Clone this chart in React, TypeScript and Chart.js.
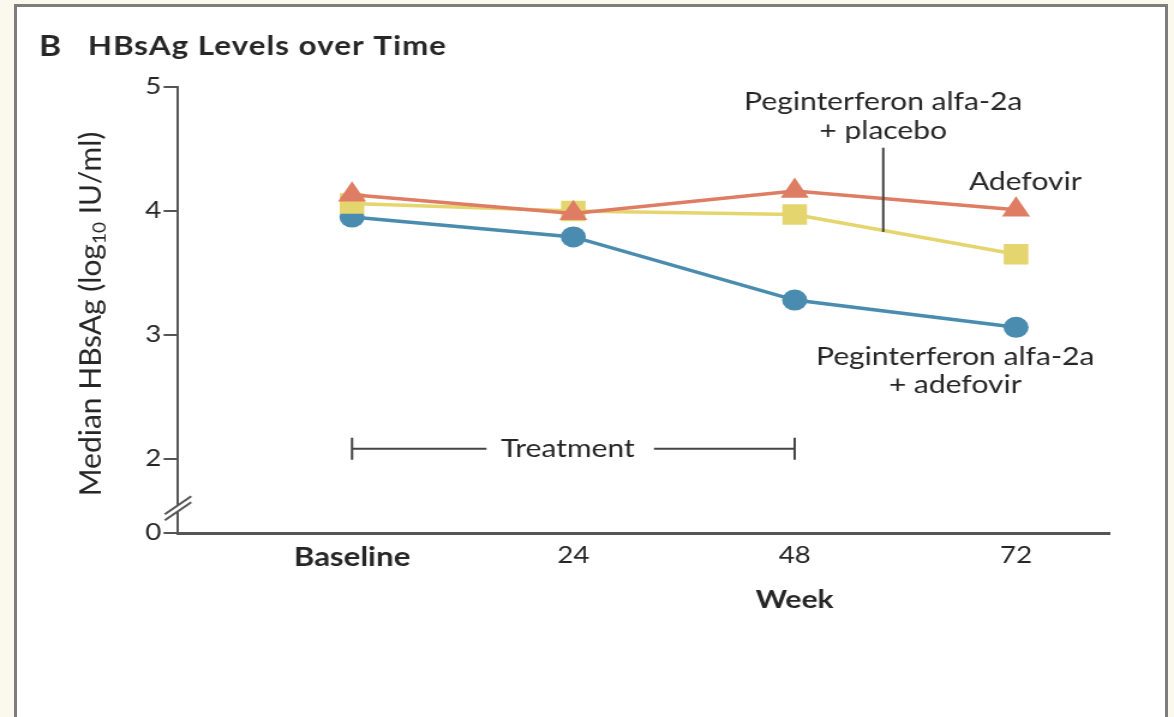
import React, { useEffect, useRef } from "react";
import { Chart, registerables } from "chart.js";

Chart.register(...registerables);

// ---- data ----
const weeks = [0, 24, 48, 72];
const weekLabels = ["Baseline", "24", "48", "72"];
const adefovir = [4.13, 3.98, 4.16, 4.01];
const pegPlacebo = [4.06, 4.0, 3.97, 3.65];
const pegAdefovir = [3.95, 3.79, 3.28, 3.06];
const yTickValues = [1.4, 2, 3, 4, 5];
const yTickLabels = ["0", "2", "3", "4", "5"];
const treatmentWeeks = [0, 48];

// The figure is drawn on a canvas that is stretched horizontally, like the source image.
const PAGE_W = 1174;
const PAGE_H = 717;
const CANVAS_W = 978;
const S = PAGE_W / CANVAS_W;

const FONT = "Lato, 'Open Sans', sans-serif";
const TEXT = "#262626";
const AXIS = "#555555";
const RED = "#de7c64";
const YELLOW = "#e5d56f";
const BLUE = "#4a8cb0";

const annotate = {
  id: "annotate",
  afterDraw(chart: any) {
    const ctx = chart.ctx as CanvasRenderingContext2D;
    const xs = chart.scales.x;
    const ys = chart.scales.y;
    const X = (v: number) => xs.getPixelForValue(v);
    const Y = (v: number) => ys.getPixelForValue(v);
    ctx.save();
    ctx.fillStyle = TEXT;
    ctx.textBaseline = "middle";

    // title
    ctx.textAlign = "left";
    ctx.font = `bold 28px ${FONT}`;
    ctx.fillText("B", 39 / S, 47);
    ctx.font = `bold 26px ${FONT}`;
    (ctx as any).letterSpacing = "0.9px";
    ctx.fillText("HBsAg Levels over Time", 88 / S, 47);
    (ctx as any).letterSpacing = "0px";

    // y axis title with subscript (rotated)
    ctx.save();
    ctx.translate(91 / S, 314);
    ctx.rotate(-Math.PI / 2);
    ctx.scale(1, 1 / S);
    const big = `30px ${FONT}`;
    const small = `19px ${FONT}`;
    const p1 = "Median HBsAg (log";
    const p2 = "10";
    const p3 = " IU/ml)";
    ctx.font = big;
    const w1 = ctx.measureText(p1).width;
    const w3 = ctx.measureText(p3).width;
    ctx.font = small;
    const w2 = ctx.measureText(p2).width;
    let sx = -(w1 + w2 + w3) / 2;
    ctx.textAlign = "left";
    ctx.font = big;
    ctx.fillText(p1, sx, 0);
    sx += w1;
    ctx.font = small;
    ctx.fillText(p2, sx, 8);
    sx += w2;
    ctx.font = big;
    ctx.fillText(p3, sx, 0);
    ctx.restore();

    // x axis title
    ctx.textAlign = "center";
    ctx.font = `bold 25px ${FONT}`;
    ctx.fillText("Week", X(48), 600);

    // series labels
    ctx.font = `25px ${FONT}`;
    ctx.fillText("Peginterferon alfa-2a", X(57.6), Y(4.88));
    ctx.fillText("+ placebo", X(57.6), Y(4.645));
    ctx.fillText("Adefovir", X(73), Y(4.234));
    ctx.fillText("Peginterferon alfa-2a", X(65.4), Y(2.823));
    ctx.fillText("+ adefovir", X(65.4), Y(2.597));

    // leader line
    ctx.strokeStyle = "#444";
    ctx.lineWidth = 2;
    ctx.beginPath();
    ctx.moveTo(X(57.6), Y(4.51));
    ctx.lineTo(X(57.6), Y(3.83));
    ctx.stroke();

    // treatment bracket
    const ty = Y(2.08);
    const tx0 = X(treatmentWeeks[0]);
    const tx1 = X(treatmentWeeks[1]);
    const tc = X(23.4);
    ctx.font = `25px ${FONT}`;
    const tw = ctx.measureText("Treatment").width;
    ctx.fillText("Treatment", tc, ty);
    ctx.strokeStyle = "#444";
    ctx.lineWidth = 2;
    ctx.beginPath();
    ctx.moveTo(tx0, ty);
    ctx.lineTo(tc - tw / 2 - 12, ty);
    ctx.moveTo(tc + tw / 2 + 16, ty);
    ctx.lineTo(tx1, ty);
    ctx.moveTo(tx0, ty - 11);
    ctx.lineTo(tx0, ty + 11);
    ctx.moveTo(tx1, ty - 11);
    ctx.lineTo(tx1, ty + 11);
    ctx.stroke();

    // axis break
    const px = chart.chartArea.left;
    const py = Y(1.6);
    const dx = 11;
    const dy = 9;
    ctx.fillStyle = "#ffffff";
    ctx.beginPath();
    ctx.moveTo(px - 3, py - 3 + 2.5);
    ctx.lineTo(px + 3, py - 3 - 2.5);
    ctx.lineTo(px + 3, py + 3 - 2.5);
    ctx.lineTo(px - 3, py + 3 + 2.5);
    ctx.closePath();
    ctx.fill();
    ctx.strokeStyle = AXIS;
    ctx.lineWidth = 2;
    ctx.beginPath();
    ctx.moveTo(px - dx, py - 3 + dy);
    ctx.lineTo(px + dx, py - 3 - dy);
    ctx.moveTo(px - dx, py + 3 + dy);
    ctx.lineTo(px + dx, py + 3 - dy);
    ctx.stroke();

    ctx.restore();
  },
};

const toPoints = (vals: number[]) => vals.map((v, i) => ({ x: weeks[i], y: v }));

export default function App() {
  const ref = useRef<HTMLCanvasElement>(null);

  useEffect(() => {
    const chart = new Chart(ref.current as HTMLCanvasElement, {
      type: "line",
      data: {
        datasets: [
          {
            label: "Adefovir",
            data: toPoints(adefovir),
            borderColor: RED,
            backgroundColor: RED,
            borderWidth: 3.5,
            pointStyle: "triangle",
            pointRadius: 13.5,
            pointBorderWidth: 0,
          },
          {
            label: "Peginterferon alfa-2a + placebo",
            data: toPoints(pegPlacebo),
            borderColor: YELLOW,
            backgroundColor: YELLOW,
            borderWidth: 3.5,
            pointStyle: "rect",
            pointRadius: 14.5,
            pointBorderWidth: 0,
          },
          {
            label: "Peginterferon alfa-2a + adefovir",
            data: toPoints(pegAdefovir),
            borderColor: BLUE,
            backgroundColor: BLUE,
            borderWidth: 3.5,
            pointStyle: "circle",
            pointRadius: 10.5,
            pointBorderWidth: 0,
          },
        ],
      },
      options: {
        responsive: false,
        devicePixelRatio: 1,
        animation: false,
        layout: { padding: { left: 0, top: 87, right: 64 / S, bottom: 0 } },
        plugins: { legend: { display: false }, tooltip: { enabled: false } },
        scales: {
          x: {
            type: "linear",
            min: -18.87,
            max: 82.19,
            afterBuildTicks: (s: any) => {
              s.ticks = weeks.map((v) => ({ value: v }));
            },
            afterFit: (s: any) => {
              s.height = PAGE_H - 533;
            },
            grid: { display: false, drawTicks: false },
            border: { display: true, color: AXIS, width: 3 },
            ticks: {
              autoSkip: false,
              maxRotation: 0,
              padding: 9,
              color: TEXT,
              font: (c: any) =>
                c.index === 0
                  ? { family: FONT, size: 26, weight: "bold" }
                  : { family: FONT, size: 23 },
              callback: (v: any) => weekLabels[weeks.indexOf(Number(v))],
            },
          },
          y: {
            min: 1.4,
            max: 5,
            afterBuildTicks: (s: any) => {
              s.ticks = yTickValues.map((v) => ({ value: v }));
            },
            afterFit: (s: any) => {
              s.width = 178 / S;
            },
            grid: {
              drawOnChartArea: false,
              drawTicks: true,
              tickLength: 12,
              color: AXIS,
              lineWidth: 2,
            },
            border: { display: true, color: AXIS, width: 2 },
            ticks: {
              padding: 2,
              color: TEXT,
              font: { family: FONT, size: 23 },
              callback: (v: any) => yTickLabels[yTickValues.indexOf(Number(v))],
            },
          },
        },
      },
      plugins: [annotate],
    } as any);
    return () => chart.destroy();
  }, []);

  return (
    <div
      style={{
        position: "fixed",
        left: 0,
        top: 0,
        width: PAGE_W,
        height: PAGE_H,
        background: "#fbf9ee",
        overflow: "hidden",
      }}
    >
      <div
        style={{
          position: "absolute",
          left: 14,
          top: 4,
          width: 1154,
          height: 730,
          boxSizing: "border-box",
          borderTop: "3px solid #7d7d7d",
          borderLeft: "3px solid #7d7d7d",
          borderRight: "3px solid #7d7d7d",
          background: "#ffffff",
        }}
      />
      <canvas
        ref={ref}
        width={CANVAS_W}
        height={PAGE_H}
        style={{ position: "absolute", left: 0, top: 0, width: PAGE_W, height: PAGE_H }}
      />
    </div>
  );
}
